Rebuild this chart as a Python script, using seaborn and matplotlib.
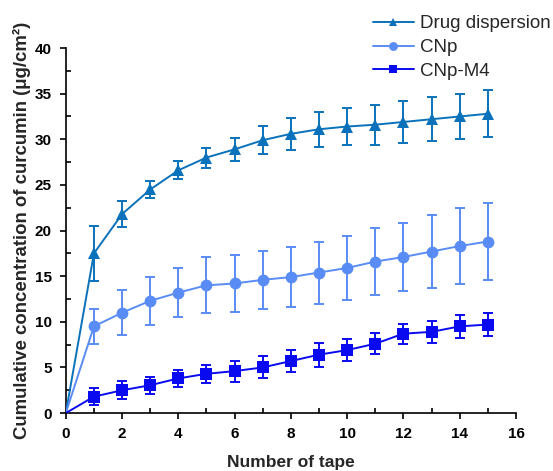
import numpy as np
import pandas as pd
import matplotlib
matplotlib.use("Agg")
import matplotlib.pyplot as plt
import seaborn as sns
from matplotlib.ticker import MultipleLocator

tape = list(range(0, 16))
series_names = ["Drug dispersion", "CNp", "CNp-M4"]
drug_mean = [0, 17.5, 21.8, 24.5, 26.6, 28.0, 28.9, 29.9, 30.6, 31.1, 31.4, 31.6, 31.9, 32.2, 32.5, 32.8]
drug_err = [0, 3.0, 1.4, 0.95, 1.0, 1.1, 1.25, 1.55, 1.75, 1.9, 2.05, 2.2, 2.3, 2.4, 2.5, 2.55]
cnp_mean = [0, 9.5, 11.0, 12.3, 13.2, 14.0, 14.2, 14.6, 14.9, 15.4, 15.9, 16.6, 17.1, 17.7, 18.3, 18.8]
cnp_err = [0, 1.9, 2.5, 2.6, 2.65, 3.05, 3.1, 3.2, 3.3, 3.4, 3.5, 3.7, 3.75, 4.0, 4.15, 4.2]
m4_mean = [0, 1.8, 2.5, 3.05, 3.8, 4.3, 4.6, 5.0, 5.7, 6.4, 6.9, 7.6, 8.7, 8.9, 9.5, 9.7]
m4_err = [0, 0.9, 1.0, 0.95, 0.95, 1.0, 1.15, 1.2, 1.25, 1.3, 1.2, 1.15, 1.1, 1.2, 1.25, 1.25]

colors = ["#0A72BA", "#5A8CF5", "#0A0AF0"]
markers = ["^", "o", "s"]

sns.set_style("ticks")
plt.rcParams["font.family"] = ["Liberation Sans", "DejaVu Sans"]
plt.rcParams["font.weight"] = "bold"

means = [drug_mean, cnp_mean, m4_mean]
errs = [drug_err, cnp_err, m4_err]
df = pd.DataFrame({
    "tape": tape * 3,
    "conc": drug_mean + cnp_mean + m4_mean,
    "series": [n for n in series_names for _ in tape],
})

fig = plt.figure(figsize=(5.53, 4.71), dpi=100)
ax = fig.add_axes([0.119, 0.123, 0.814, 0.775])

for name, m, e, c in zip(series_names, means, errs, colors):
    ax.errorbar(tape[1:], m[1:], yerr=e[1:], fmt="none", ecolor=c,
                elinewidth=1.4, capsize=3.5, capthick=1.4, zorder=2)

sns.lineplot(data=df, x="tape", y="conc", hue="series", style="series",
             hue_order=series_names, style_order=series_names,
             palette=dict(zip(series_names, colors)),
             markers=dict(zip(series_names, markers)),
             dashes=False, markersize=8.5, markeredgewidth=0,
             linewidth=1.4, ax=ax, zorder=3)
for line in ax.lines:
    if len(line.get_xdata()) == len(tape):
        line.set_markevery(list(range(1, len(tape))))

sns.move_legend(ax, "upper right", bbox_to_anchor=(1.0, 0.972),
                bbox_transform=fig.transFigure, frameon=False, title=None,
                fontsize=13.5, handlelength=2.2, handletextpad=0.35,
                labelspacing=0.36, borderaxespad=0.0, borderpad=0.1,
                markerscale=0.75)
for t in ax.get_legend().get_texts():
    t.set_fontweight("normal")

ax.set_xlim(0, 16)
ax.set_ylim(0, 40)
ax.xaxis.set_major_locator(MultipleLocator(2))
ax.xaxis.set_minor_locator(MultipleLocator(1))
ax.yaxis.set_major_locator(MultipleLocator(5))
ax.yaxis.set_minor_locator(MultipleLocator(2.5))
ax.tick_params(which="both", width=1.2, colors="black")
ax.tick_params(which="major", direction="out", length=4, labelsize=11, pad=6)
ax.tick_params(which="minor", direction="in", length=3.5)
for lab in ax.get_xticklabels() + ax.get_yticklabels():
    lab.set_fontweight("bold")
sns.despine(ax=ax)
for s in ["left", "bottom"]:
    ax.spines[s].set_linewidth(1.2)
    ax.spines[s].set_color("black")

ax.set_xlabel("Number of tape", fontsize=12.5, fontweight="bold", labelpad=10)
ax.set_ylabel("Cumulative concentration of curcumin (μg/cm²)", fontsize=13.4,
              fontweight="bold", labelpad=3)

fig.savefig("out.png", dpi=100)
